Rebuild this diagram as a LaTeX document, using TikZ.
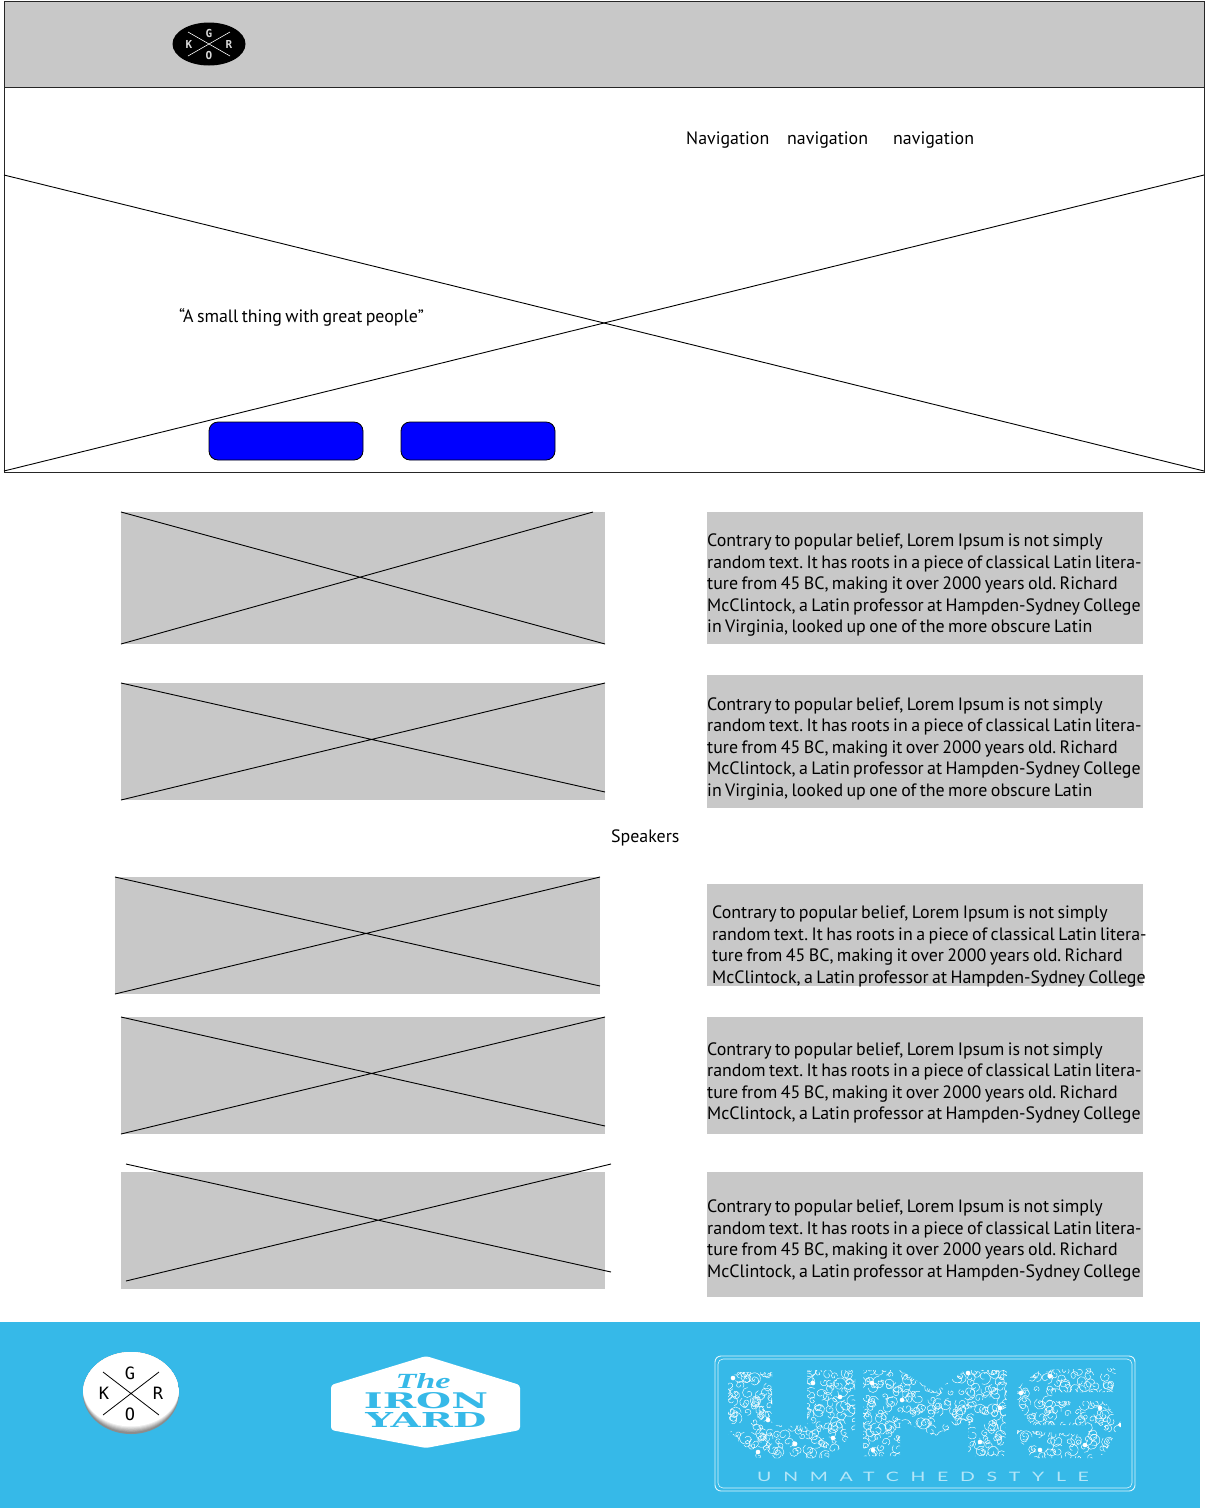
\documentclass[tikz,border=0pt]{standalone}
\usepackage{graphicx}
\usepackage{fontspec}
\setmainfont[WordSpace=0.72]{PT Sans}
\newfontfamily\logofont{DejaVu Sans Mono}
\newfontfamily\slabfont{DejaVu Serif}
\newfontfamily\thefont{Liberation Serif}
\newfontfamily\umsfont[LetterSpace=90,FakeStretch=1.5]{Lato}
\definecolor{panel}{HTML}{C8C8C8}
\definecolor{skyblue}{HTML}{36B9E8}
\definecolor{umslight}{HTML}{B4E6F8}
\newcommand\lineA{Contrary to popular belief, Lorem Ipsum is not simply}
\newcommand\lineB{random text. It has roots in a piece of classical Latin litera-}
\newcommand\lineC{ture from 45 BC, making it over 2000 years old. Richard}
\newcommand\lineD{McClintock, a Latin professor at Hampden-Sydney College}
\newcommand\lineE{in Virginia, looked up one of the more obscure Latin}
\tikzset{
  x=1pt,y=-1pt,
  wire/.style={draw=black!85,line width=1pt},
  crossline/.style={draw=black,line width=0.9pt},
  graybox/.style={fill=panel},
  label/.style={anchor=base west,inner sep=0pt,font=\fontsize{17.9}{20}\selectfont\frenchspacing,text=black},
  btn/.style={draw=black,line width=0.8pt,fill=blue,rounded corners=9pt},
}
\begin{document}
\begin{tikzpicture}
\useasboundingbox (0,0) rectangle (1207,1508);
\fill[white] (0,0) rectangle (1207,1508);
% header
\draw[wire,graybox] (4,1) rectangle (1204,87);
\draw[wire] (4,87) rectangle (1204,472);
\draw[crossline] (4,175) -- (1204,471);
\draw[crossline] (4,471) -- (1204,175);
% black logo
\fill[black] (209,44) ellipse [x radius=36.5,y radius=21.5];
\draw[white,line width=0.6pt] (188,32) -- (230,56) (188,56) -- (230,32);
\foreach \nm/\px/\py/\ch in {tg/209/33/G,tk/189/44.5/K,tr/229/44.5/R,to/209/55/O}
  \node[text=white!85!black,inner sep=0pt,font=\logofont\bfseries\fontsize{11}{12}\selectfont] (\nm) at (\px,\py) {\ch};
% nav
\node[label] (nav1) at (686,144) {Navigation};
\node[label] (nav2) at (787,144) {navigation};
\node[label] (nav3) at (893,144) {navigation};
\node[label] (quote) at (179,322) {“A small thing with great people”};
\node[label] (speakers) at (611,842) {Speakers};
% buttons
\path[btn] (209,422) rectangle (363,460);
\path[btn] (401,422) rectangle (555,460);
% image placeholders
\fill[panel] (121,512) rectangle (605,644);
\draw[crossline] (121,512) -- (605,644) (121,644) -- (593,512);
\fill[panel] (121,683) rectangle (605,800);
\draw[crossline] (121,683) -- (605,792) (121,800) -- (605,683);
\fill[panel] (115,877) rectangle (600,994);
\draw[crossline] (115,877) -- (600,986) (115,994) -- (600,877);
\fill[panel] (121,1017) rectangle (605,1134);
\draw[crossline] (121,1017) -- (605,1126) (121,1134) -- (605,1017);
\fill[panel] (121,1172) rectangle (605,1289);
\draw[crossline] (126,1164) -- (611,1272) (126,1281) -- (611,1164);
% text panels
\fill[panel] (707,512) rectangle (1143,644);
\fill[panel] (707,675) rectangle (1143,808);
\fill[panel] (707,884) rectangle (1143,986);
\fill[panel] (707,1017) rectangle (1143,1134);
\fill[panel] (707,1172) rectangle (1143,1297);
\node[label] (p1a) at (707,546) {\lineA};
\node[label] (p1b) at (707,568) {\lineB};
\node[label] (p1c) at (707,589) {\lineC};
\node[label] (p1d) at (707,611) {\lineD};
\node[label] (p1e) at (707,632) {\lineE};
\node[label] (p2a) at (707,710) {\lineA};
\node[label] (p2b) at (707,731) {\lineB};
\node[label] (p2c) at (707,753) {\lineC};
\node[label] (p2d) at (707,774) {\lineD};
\node[label] (p2e) at (707,796) {\lineE};
\node[label] (p3a) at (712,918) {\lineA};
\node[label] (p3b) at (712,940) {\lineB};
\node[label] (p3c) at (712,961) {\lineC};
\node[label] (p3d) at (712,983) {\lineD};
\node[label] (p4a) at (707,1055) {\lineA};
\node[label] (p4b) at (707,1076) {\lineB};
\node[label] (p4c) at (707,1098) {\lineC};
\node[label] (p4d) at (707,1119) {\lineD};
\node[label] (p5a) at (707,1212) {\lineA};
\node[label] (p5b) at (707,1234) {\lineB};
\node[label] (p5c) at (707,1255) {\lineC};
\node[label] (p5d) at (707,1277) {\lineD};
% footer
\fill[skyblue] (0,1322) rectangle (1200,1508);
% badge
\begin{scope}
\clip (131,1393) ellipse [x radius=48,y radius=41];
\fill[black!45] (80,1350) rectangle (182,1436);
\foreach \k in {0,1,...,6}{
  \pgfmathsetmacro\shade{45-7.5*\k}
  \fill[black!\shade] (131,1392-0.5*\k) ellipse [x radius=48,y radius=41-0.6*\k];
}
\fill[white] (131,1388) ellipse [x radius=48,y radius=36];
\end{scope}
\draw[black,line width=0.8pt] (103,1372) -- (159,1415) (103,1415) -- (159,1372);
\foreach \nm/\px/\py/\ch in {bg/130/1373/G,bk/104/1393/K,br/158/1393/R,bo/130/1414/O}
  \node[text=black,inner sep=0pt,font=\logofont\fontsize{17}{18}\selectfont] (\nm) at (\px,\py) {\ch};
% iron yard
\fill[white,rounded corners=3pt] (426,1356) -- (520,1385) -- (520,1430) -- (426,1448) -- (331,1430) -- (331,1385) -- cycle;
\node[inner sep=0pt,text=skyblue] (the) at (423,1381) {\resizebox{55pt}{15pt}{\thefont\bfseries\itshape The}};
\node[inner sep=0pt,text=skyblue] (iron) at (426,1401) {\resizebox{124pt}{16pt}{\slabfont\bfseries IRON}};
\node[inner sep=0pt,text=skyblue] (yard) at (426,1419.5) {\resizebox{121pt}{15pt}{\slabfont\bfseries YARD}};
% UMS
\draw[white!85!skyblue,line width=0.9pt,rounded corners=6pt] (715,1356) rectangle (1135,1491);
\draw[white!85!skyblue,line width=0.6pt,rounded corners=5pt] (718,1359) rectangle (1132,1488);
\begin{scope}
\clip (728,1372) -- (772,1372) -- (772,1430) to[out=90,in=180] (790,1426) to[out=0,in=90] (807,1430) -- (807,1370) -- (855,1370) -- (855,1435) to[out=90,in=0] (825,1458) -- (760,1458) to[out=180,in=90] (728,1435) -- cycle
      (863,1370) -- (900,1370) -- (935,1392) -- (965,1370) -- (1007,1370) -- (1005,1456) -- (968,1456) -- (968,1420) -- (935,1436) -- (900,1420) -- (900,1456) -- (863,1456) -- cycle
      (1040,1370) -- (1115,1368) -- (1118,1392) -- (1052,1392) -- (1052,1401) -- (1100,1401) to[out=0,in=-90] (1121,1425) to[out=90,in=0] (1095,1458) -- (1035,1458) to[out=180,in=90] (1017,1440) -- (1017,1430) -- (1088,1435) -- (1088,1425) -- (1035,1425) to[out=180,in=90] (1017,1405) -- (1017,1388) -- cycle;
\pgfmathsetseed{11}
\foreach \gx in {726,734,...,1124}{
  \foreach \gy in {1366,1374,...,1460}{
    \pgfmathsetmacro\ang{360*rnd}
    \pgfmathsetmacro\rad{2.5+3.5*rnd}
    \pgfmathsetmacro\radb{0.55*\rad}
    \pgfmathsetmacro\dx{5*rnd-2.5}
    \pgfmathsetmacro\dy{5*rnd-2.5}
    \draw[white,line width=0.45pt] (\gx+\dx,\gy+\dy) arc[start angle=\ang,delta angle=230,radius=\rad pt] arc[start angle=\ang+230,delta angle=180,radius=\radb pt];
  }
}
\foreach \fx/\fy in {733/1378,773/1402,768/1420,758/1452,795/1444,833/1438,813/1383,840/1397,872/1383,902/1400,927/1442,968/1373,1000/1408,980/1442,873/1450,1021/1393,1050/1376,1100/1408,1040/1450,1085/1445,1120/1425}
  \fill[white] (\fx,\fy) circle[radius=2.3pt];
\end{scope}
\node[inner sep=0pt,anchor=base west,text=umslight,font=\umsfont\fontsize{13}{14}\selectfont] (umsline) at (757,1481) {UNMATCHEDSTYLE};
\end{tikzpicture}
\end{document}
